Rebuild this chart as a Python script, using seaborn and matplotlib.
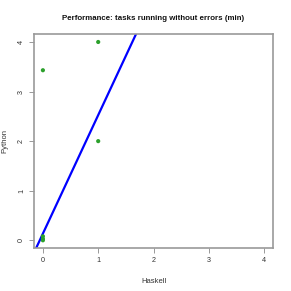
import seaborn as sns
import matplotlib.pyplot as plt
import pandas as pd

# tasks running without errors (min)
haskell = [0, 0, 0, 0, 1, 1]
python = [0, 0.03, 0.08, 3.43, 4, 2]
fit_intercept = 0.135
fit_slope = 2.39
ticks = [0, 1, 2, 3, 4]

GREY, TEXT = '#999999', '#333333'

sns.set_theme(style='white')
plt.rcParams['font.family'] = ['Liberation Sans', 'DejaVu Sans']

df = pd.DataFrame({'Haskell': haskell, 'Python': python})

fig = plt.figure(figsize=(2.91, 2.91), dpi=100, facecolor='white')
ax = fig.add_axes([0.117, 0.147, 0.821, 0.736])

sns.scatterplot(data=df, x='Haskell', y='Python', color='#2ca02c', s=9,
                edgecolor='none', ax=ax, zorder=3)
ax.axline((0, fit_intercept), slope=fit_slope, color='#0000ff', lw=1.6)

ax.set_xlim(-0.16, 4.16)
ax.set_ylim(-0.16, 4.16)
ax.set_xticks(ticks)
ax.set_yticks(ticks)
ax.set_xticklabels([str(t) for t in ticks], fontsize=5.2, color=TEXT)
ax.set_yticklabels([str(t) for t in ticks], fontsize=5.2, color=TEXT,
                   rotation=90, va='center')
ax.tick_params(axis='both', length=3.5, width=0.7, color=GREY, pad=3,
               bottom=True, left=True)
for sp in ax.spines.values():
    sp.set_edgecolor(GREY)
    sp.set_linewidth(1.2)

ax.set_xlabel('Haskell', fontsize=5.5, color=TEXT, labelpad=10)
ax.set_ylabel('Python', fontsize=5.5, color=TEXT, labelpad=7)
ax.set_title('Performance: tasks running without errors (min)',
             fontsize=5.7, fontweight='bold', color='#111111', pad=10)

fig.savefig('out.png', dpi=100, facecolor='white')
